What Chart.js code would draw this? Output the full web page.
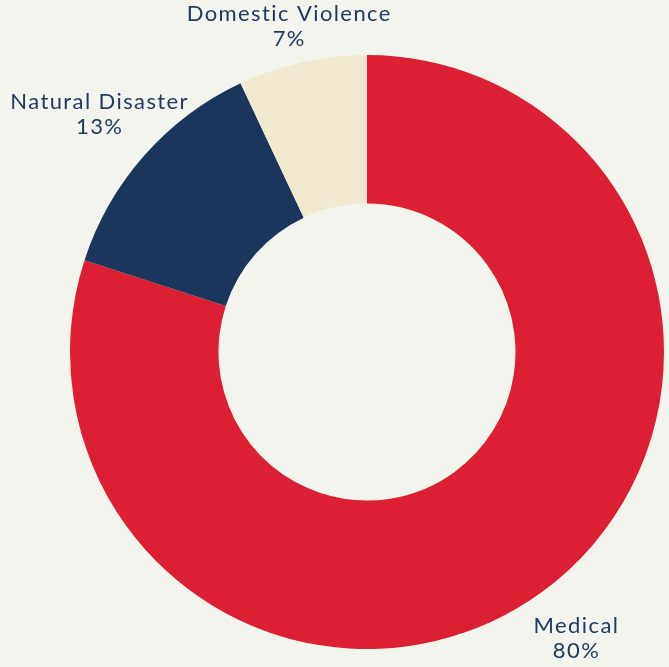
<!DOCTYPE html>
<html>
<head>
<meta charset="utf-8">
<script src="https://cdn.jsdelivr.net/npm/chart.js@4/dist/chart.umd.min.js"></script>
<style>
  html, body { margin: 0; padding: 0; background: #F4F4EF; }
  #wrap { width: 669px; height: 667px; position: relative; }
</style>
</head>
<body>
<div id="wrap"><canvas id="c" width="669" height="667"></canvas></div>
<script>
const categories = ["Medical", "Natural Disaster", "Domestic Violence"];
const percentValues = [80, 13, 7];
const percentLabels = ["80%", "13%", "7%"];
const sliceColors = ["#DC1F32", "#1C355A", "#F0E9D0"];

const outsideLabels = {
  id: 'outsideLabels',
  afterDatasetsDraw(chart) {
    const ctx = chart.ctx;
    const meta = chart.getDatasetMeta(0);
    const W = chart.width, H = chart.height;
    ctx.save();
    ctx.font = '22px Lato, "Open Sans", sans-serif';
    try { ctx.letterSpacing = '1.4px'; } catch (e) {}
    ctx.fillStyle = '#203A5E';
    ctx.textAlign = 'center';
    ctx.textBaseline = 'middle';
    const lh = 25;
    meta.data.forEach((arc, i) => {
      const p = arc.getProps(['x','y','startAngle','endAngle','outerRadius'], true);
      const mid = (p.startAngle + p.endAngle) / 2;
      const r = p.outerRadius * 1.2;
      let cx = p.x + Math.cos(mid) * r;
      let cy = p.y + Math.sin(mid) * r - 2;
      const w = Math.max(ctx.measureText(categories[i]).width, ctx.measureText(percentLabels[i]).width);
      cy = Math.max(lh + 1, Math.min(H - lh - 4, cy));
      cx = Math.max(w / 2 + 4, Math.min(W - w / 2 - 4, cx));
      ctx.fillText(categories[i], cx, cy - lh / 2);
      ctx.fillText(percentLabels[i], cx, cy + lh / 2);
    });
    ctx.restore();
  }
};

new Chart(document.getElementById('c'), {
  type: 'doughnut',
  data: {
    labels: categories,
    datasets: [{
      data: percentValues,
      backgroundColor: sliceColors,
      borderWidth: 0,
      hoverOffset: 0
    }]
  },
  options: {
    responsive: false,
    animation: false,
    cutout: '50%',
    layout: { padding: { left: 70, right: 5, top: 55, bottom: 18 } },
    plugins: {
      legend: { display: false },
      tooltip: { enabled: false }
    }
  },
  plugins: [outsideLabels]
});
</script>
</body>
</html>
